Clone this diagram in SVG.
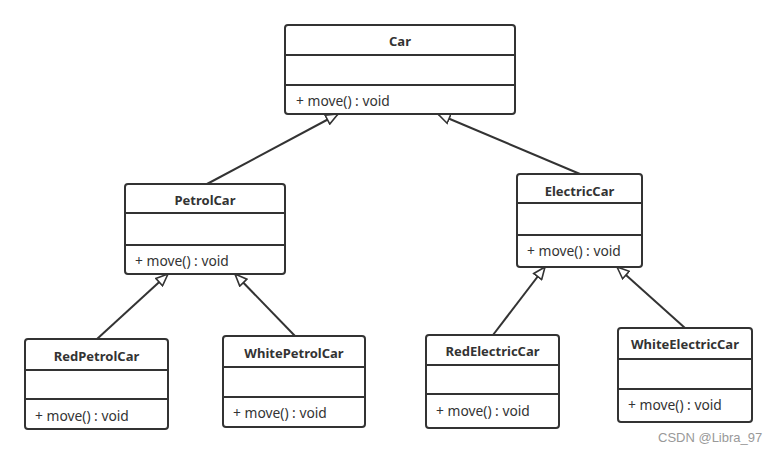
<svg xmlns="http://www.w3.org/2000/svg" width="777" height="454" viewBox="0 0 777 454">
<defs>
<style>
.box{fill:#fff;stroke:#333;stroke-width:2}
.div{stroke:#333;stroke-width:2}
.t{font-family:"Noto Sans","Liberation Sans",sans-serif;font-size:13px;font-weight:bold;fill:#333;text-anchor:middle;dominant-baseline:central}
.m{font-family:"Noto Sans","Liberation Sans",sans-serif;font-size:13.8px;fill:#333;dominant-baseline:central}
.c{stroke:#333;stroke-width:2;fill:none;marker-end:url(#tri)}
.wm{font-family:"Liberation Sans",Arial,sans-serif;font-size:13px;fill:#999}
</style>
<marker id="tri" markerUnits="userSpaceOnUse" markerWidth="14" markerHeight="12" refX="13" refY="6" orient="auto" viewBox="0 0 14 12">
<path d="M1,1 L13,6 L1,11 Z" fill="#fff" stroke="#333" stroke-width="1.6"/>
</marker>
</defs>
<rect width="777" height="454" fill="#fff"/>
<g id="connectors">
<path class="c" d="M207,184 L338,114"/>
<path class="c" d="M580,174 L438,114"/>
<path class="c" d="M97,339 L168,274"/>
<path class="c" d="M295,336 L235,274"/>
<path class="c" d="M493,335 L545,267"/>
<path class="c" d="M685,328 L617,267"/>
</g>
<g id="Car">
<rect class="box" x="285" y="25" width="230" height="89" rx="3"/>
<line class="div" x1="285" y1="55" x2="515" y2="55"/>
<line class="div" x1="285" y1="85" x2="515" y2="85"/>
<text class="t" x="400" y="41">Car</text>
<text class="m" x="296" y="100">+ move() : void</text>
</g>
<g id="PetrolCar">
<rect class="box" x="125" y="184" width="160" height="90" rx="3"/>
<line class="div" x1="125" y1="213" x2="285" y2="213"/>
<line class="div" x1="125" y1="245" x2="285" y2="245"/>
<text class="t" x="205" y="200">PetrolCar</text>
<text class="m" x="135" y="260">+ move() : void</text>
</g>
<g id="ElectricCar">
<rect class="box" x="517" y="174" width="125" height="93" rx="3"/>
<line class="div" x1="517" y1="203" x2="642" y2="203"/>
<line class="div" x1="517" y1="235" x2="642" y2="235"/>
<text class="t" x="579.5" y="191">ElectricCar</text>
<text class="m" x="527" y="250">+ move() : void</text>
</g>
<g id="RedPetrolCar">
<rect class="box" x="25" y="339" width="143" height="90" rx="3"/>
<line class="div" x1="25" y1="370" x2="168" y2="370"/>
<line class="div" x1="25" y1="399" x2="168" y2="399"/>
<text class="t" x="96.5" y="356">RedPetrolCar</text>
<text class="m" x="35" y="415">+ move() : void</text>
</g>
<g id="WhitePetrolCar">
<rect class="box" x="223" y="336" width="142" height="91" rx="3"/>
<line class="div" x1="223" y1="367" x2="365" y2="367"/>
<line class="div" x1="223" y1="397" x2="365" y2="397"/>
<text class="t" x="294" y="353">WhitePetrolCar</text>
<text class="m" x="233" y="412">+ move() : void</text>
</g>
<g id="RedElectricCar">
<rect class="box" x="426" y="335" width="133" height="93" rx="3"/>
<line class="div" x1="426" y1="365" x2="559" y2="365"/>
<line class="div" x1="426" y1="394" x2="559" y2="394"/>
<text class="t" x="492.5" y="351">RedElectricCar</text>
<text class="m" x="436" y="410">+ move() : void</text>
</g>
<g id="WhiteElectricCar">
<rect class="box" x="618" y="328" width="134" height="94" rx="3"/>
<line class="div" x1="618" y1="359" x2="752" y2="359"/>
<line class="div" x1="618" y1="389" x2="752" y2="389"/>
<text class="t" x="685" y="344">WhiteElectricCar</text>
<text class="m" x="628" y="404">+ move() : void</text>
</g>
<text class="wm" x="658" y="442">CSDN @Libra_97</text>
</svg>
